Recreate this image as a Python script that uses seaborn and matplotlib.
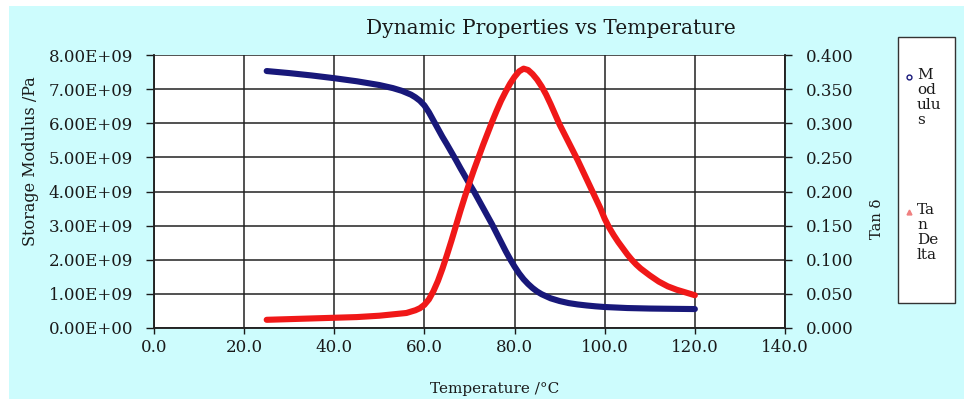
import matplotlib
matplotlib.use("Agg")
import matplotlib.pyplot as plt
import seaborn as sns
import pandas as pd
from matplotlib.lines import Line2D
from matplotlib.patches import Rectangle
from matplotlib.ticker import FuncFormatter, MultipleLocator

# ---------------- data ----------------
mod_temp = [25, 30, 35, 40, 45, 50, 53, 55, 57, 58, 59, 60, 61, 62, 63, 64,
            65, 66, 67, 68, 69, 70, 71, 72, 73, 74, 75, 76, 77, 78, 79, 80,
            81, 82, 83, 84, 85, 86, 88, 90, 92, 94, 96, 98, 100, 105, 110,
            115, 120]
modulus = [7.53e9, 7.47e9, 7.40e9, 7.32e9, 7.23e9, 7.12e9, 7.03e9, 6.95e9,
           6.84e9, 6.76e9, 6.66e9, 6.52e9, 6.32e9, 6.08e9, 5.84e9, 5.60e9,
           5.38e9, 5.15e9, 4.92e9, 4.68e9, 4.45e9, 4.22e9, 4.00e9, 3.76e9,
           3.52e9, 3.28e9, 3.04e9, 2.78e9, 2.52e9, 2.26e9, 2.02e9, 1.80e9,
           1.60e9, 1.43e9, 1.29e9, 1.17e9, 1.07e9, 0.99e9, 0.87e9, 0.79e9,
           0.73e9, 0.69e9, 0.66e9, 0.635e9, 0.615e9, 0.585e9, 0.57e9,
           0.562e9, 0.555e9]

tan_temp = [25, 30, 35, 40, 45, 50, 53, 56, 57, 58, 59, 60, 61, 62, 63, 64,
            65, 66, 67, 68, 69, 70, 71, 72, 73, 74, 75, 76, 77, 78, 79, 80,
            81, 82, 83, 84, 85, 86, 87, 88, 89, 90, 91, 92, 93, 94, 95, 96,
            97, 98, 99, 100, 101, 102, 103, 104, 105, 106, 107, 108, 110,
            112, 114, 116, 118, 120]
tan_delta = [0.012, 0.013, 0.014, 0.015, 0.016, 0.018, 0.020, 0.022, 0.024,
             0.026, 0.029, 0.034, 0.042, 0.054, 0.069, 0.087, 0.107, 0.128,
             0.150, 0.172, 0.193, 0.213, 0.232, 0.250, 0.268, 0.285, 0.302,
             0.318, 0.333, 0.346, 0.358, 0.368, 0.376, 0.380, 0.378, 0.372,
             0.364, 0.354, 0.342, 0.328, 0.313, 0.298, 0.285, 0.272, 0.259,
             0.246, 0.232, 0.218, 0.204, 0.190, 0.176, 0.160, 0.147, 0.136,
             0.126, 0.117, 0.108, 0.100, 0.093, 0.087, 0.077, 0.068, 0.061,
             0.056, 0.052, 0.048]

title = "Dynamic Properties vs Temperature"
xlabel = "Temperature /°C"
ylabel_left = "Storage Modulus /Pa"
ylabel_right = "Tan δ"
legend_mod = "M\nod\nulu\ns"
legend_tan = "Ta\nn\nDe\nlta"

df_mod = pd.DataFrame({"T": mod_temp, "E": modulus})
df_tan = pd.DataFrame({"T": tan_temp, "tan": tan_delta})

# ---------------- style ----------------
sns.set_style("white")
plt.rcParams["font.family"] = ["DejaVu Serif"]
plt.rcParams["text.color"] = "#1a1a1a"
plt.rcParams["axes.labelcolor"] = "#1a1a1a"
plt.rcParams["xtick.color"] = "#1a1a1a"
plt.rcParams["ytick.color"] = "#1a1a1a"

W, H = 964, 399
fig = plt.figure(figsize=(W / 100, H / 100), dpi=100, facecolor="white")

# cyan chart background (white strip at top/left)
fig.add_artist(Rectangle((9 / W, 0), 1 - 9 / W, 1 - 6 / H, transform=fig.transFigure,
                         facecolor="#cdfcfd", edgecolor="none", zorder=-10))

ax = fig.add_axes([154 / W, 71 / H, (785 - 154) / W, (328 - 55) / H])
ax.set_facecolor("white")
ax2 = ax.twinx()

navy = "#18187a"
red = "#f01818"

sns.lineplot(data=df_mod, x="T", y="E", ax=ax, color=navy, linewidth=4.4,
             sort=False, zorder=3, solid_joinstyle="round", solid_capstyle="round")
sns.lineplot(data=df_tan, x="T", y="tan", ax=ax2, color=red, linewidth=4.4,
             sort=False, zorder=3, solid_joinstyle="round", solid_capstyle="round")

ax.set_xlim(0, 140)
ax.set_ylim(0, 8e9)
ax2.set_ylim(0, 0.4)
ax.xaxis.set_major_locator(MultipleLocator(20))
ax.yaxis.set_major_locator(MultipleLocator(1e9))
ax2.yaxis.set_major_locator(MultipleLocator(0.05))
ax.xaxis.set_major_formatter(FuncFormatter(lambda v, p: f"{v:.1f}"))
ax.yaxis.set_major_formatter(FuncFormatter(lambda v, p: f"{v:.2E}"))
ax2.yaxis.set_major_formatter(FuncFormatter(lambda v, p: f"{v:.3f}"))

ax.grid(True, color="#222222", linewidth=1.1)
ax.set_axisbelow(True)
for a in (ax, ax2):
    for s in a.spines.values():
        s.set_color("#222222")
        s.set_linewidth(1.1)
ax2.spines["top"].set_visible(False)
ax.spines["top"].set_visible(False)

ax.tick_params(axis="x", direction="out", length=4, width=1, labelsize=12,
               pad=4, bottom=True)
ax.tick_params(axis="y", direction="out", length=6, width=1, labelsize=12,
               pad=9, left=True)
ax2.tick_params(axis="y", direction="out", length=5, width=1, labelsize=12,
                pad=10, right=True)

ax.set_xlabel(xlabel, fontsize=11)
ax.xaxis.set_label_coords(0.54, -0.198)
ax.set_ylabel(ylabel_left, fontsize=11.5)
ax.yaxis.set_label_coords(-0.183, 0.61)
ax2.set_ylabel(ylabel_right, fontsize=10.5, rotation=90)
ax2.yaxis.set_label_coords(1.135, 0.40)

fig.text(551 / W, 1 - 28 / H, title, ha="center", va="center", fontsize=14.5)

# legend box (drawn manually to match the tall Excel-style legend)
fig.add_artist(Rectangle((898 / W, 1 - 303 / H), 57 / W, 266 / H,
                         transform=fig.transFigure, facecolor="white",
                         edgecolor="#333333", linewidth=1.0, zorder=5))
fig.add_artist(Line2D([909 / W], [1 - 77 / H], transform=fig.transFigure,
                      marker="o", markersize=3.5, markerfacecolor="none",
                      markeredgecolor=navy, linestyle="none", zorder=6))
fig.text(917 / W, 1 - 68 / H, legend_mod, ha="left", va="top", fontsize=11,
         linespacing=1.1, zorder=6)
fig.add_artist(Line2D([909 / W], [1 - 212 / H], transform=fig.transFigure,
                      marker="^", markersize=3.5, markerfacecolor="#f08080",
                      markeredgecolor="#f08080", linestyle="none", zorder=6))
fig.text(917 / W, 1 - 203 / H, legend_tan, ha="left", va="top", fontsize=11,
         linespacing=1.1, zorder=6)

fig.savefig("out.png", dpi=100, facecolor=fig.get_facecolor())
